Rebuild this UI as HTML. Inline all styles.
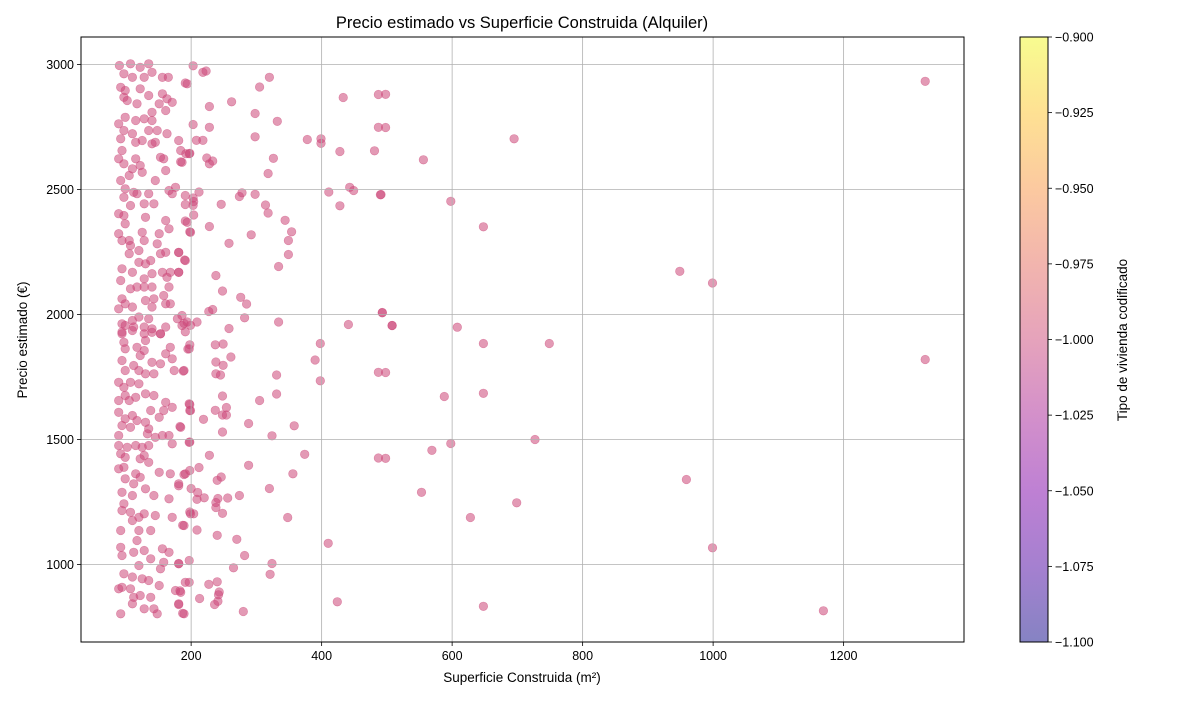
<!DOCTYPE html>
<html><head><meta charset="utf-8"><style>
body{margin:0;background:#fff;}
svg text{font-family:"Liberation Sans","DejaVu Sans",sans-serif;fill:#000;}
</style></head><body>
<svg id="chart" width="1200" height="700" viewBox="0 0 1200 700" xmlns="http://www.w3.org/2000/svg">
<defs>
<linearGradient id="plasma" x1="0" y1="1" x2="0" y2="0">
<stop offset="0" stop-color="#0d0887"/><stop offset="0.125" stop-color="#4c02a1"/>
<stop offset="0.25" stop-color="#7e03a8"/><stop offset="0.375" stop-color="#a82296"/>
<stop offset="0.5" stop-color="#cc4778"/><stop offset="0.625" stop-color="#e56b5d"/>
<stop offset="0.75" stop-color="#f89441"/><stop offset="0.875" stop-color="#fdc328"/>
<stop offset="1" stop-color="#f0f921"/></linearGradient>
</defs>
<text x="522" y="28" font-size="16.5" text-anchor="middle">Precio estimado vs Superficie Construida (Alquiler)</text>
<g id="points"></g>
<g id="grid"></g>
<rect x="81" y="37" width="883" height="605" fill="none" stroke="#000" stroke-width="1"/>
<g id="xticks"></g>
<g id="yticks"></g>
<text x="522" y="682" font-size="13.5" text-anchor="middle">Superficie Construida (m²)</text>
<text transform="translate(27,340) rotate(-90)" font-size="13.5" text-anchor="middle">Precio estimado (€)</text>
<rect x="1020" y="37" width="28" height="605" fill="url(#plasma)" fill-opacity="0.5"/>
<rect x="1020" y="37" width="28" height="605" fill="none" stroke="#000" stroke-width="1"/>
<g id="cticks"></g>
<text transform="translate(1127,340) rotate(-90)" font-size="13.5" text-anchor="middle">Tipo de vivienda codificado</text>
</svg>
<script>
const surface = [
1325,498,498,695,556,491,598,648,949,999,493,508,608,648,749,1325,498,588,648,727,598,569,498,959,553,699,628,999,648,1169,
203,218,223,191,320,305,262,228,298,332,203,228,208,218,298,378,399,399,428,481,433,487,487,192,198,184,224,228,233,326,318,212,203,204,203,191,204,191,278,274,298,246,314,318,411,443,449,490,428,228,198,292,344,354,349,258,349,181,190,181,334,238,248,276,285,227,233,282,186,189,191,199,209,334,258,441,493,508,198,195,237,249,261,398,390,238,249,238,245,331,398,487,188,248,331,305,198,198,237,254,248,254,219,183,288,248,324,358,198,228,374,487,288,189,198,212,240,246,181,200,210,356,320,274,209,220,241,256,238,238,198,204,248,348,187,209,240,270,410,282,181,265,324,321,191,183,181,227,240,243,242,241,236,213,187,280,424,
90,107,135,97,110,122,140,128,156,165,194,92,99,97,102,117,122,135,156,163,171,151,161,140,99,115,128,140,89,97,110,135,148,163,92,115,125,140,145,181,184,197,94,89,97,110,122,125,115,153,158,186,105,161,145,92,99,112,117,135,166,176,171,191,97,107,128,130,143,89,97,99,161,166,194,199,89,94,105,107,125,128,151,148,153,161,181,191,105,120,94,110,120,130,138,156,163,168,181,128,140,92,107,117,128,140,158,166,94,89,99,110,130,143,140,161,168,94,99,110,120,135,112,128,140,153,161,179,186,194,94,128,
94,110,140,153,97,99,117,130,128,122,161,168,171,174,189,197,94,99,112,120,130,140,153,143,89,97,107,120,99,89,105,115,130,143,161,158,151,138,171,197,199,89,99,110,117,94,107,130,135,133,145,156,166,171,197,184,89,89,102,115,125,135,92,99,122,128,135,97,89,115,122,151,168,181,191,99,112,94,110,130,143,166,97,94,107,120,128,145,171,189,199,92,110,120,138,117,92,94,112,128,138,156,166,158,153,181,197,97,110,120,89,94,107,125,135,151,112,122,138,110,128,143,148,176,184,181,197,92,189
];
const price = [
2933,2881,2748,2703,2619,2480,2453,2351,2173,2126,2007,1956,1949,1884,1884,1820,1768,1672,1685,1500,1484,1457,1425,1340,1289,1247,1188,1067,833,815,
2995,2969,2974,2926,2949,2910,2851,2832,2804,2773,2760,2749,2697,2697,2711,2700,2703,2685,2652,2655,2868,2880,2749,2643,2645,2611,2626,2603,2614,2625,2564,2490,2466,2452,2437,2440,2398,2374,2487,2472,2481,2441,2438,2406,2490,2509,2496,2479,2435,2352,2331,2319,2377,2331,2296,2285,2240,2248,2218,2169,2192,2156,2094,2069,2042,2012,2020,1987,1996,1965,1931,1957,1970,1970,1944,1960,2008,1956,1879,1862,1879,1882,1830,1884,1818,1810,1797,1763,1758,1758,1735,1769,1774,1674,1682,1656,1640,1616,1617,1628,1598,1598,1581,1552,1564,1530,1515,1555,1490,1437,1441,1426,1397,1360,1376,1388,1337,1350,1315,1304,1288,1363,1304,1276,1261,1267,1264,1266,1248,1228,1210,1203,1205,1188,1157,1138,1117,1101,1085,1036,1004,987,1004,961,929,895,840,921,931,890,879,853,840,864,805,812,851,
2996,3003,3003,2963,2949,2989,2969,2949,2949,2949,2923,2909,2896,2869,2856,2843,2903,2876,2883,2863,2849,2843,2816,2809,2789,2776,2783,2776,2763,2736,2723,2736,2736,2723,2703,2689,2696,2683,2689,2696,2656,2643,2656,2623,2603,2583,2596,2569,2623,2629,2623,2609,2556,2576,2536,2536,2503,2489,2483,2483,2496,2509,2483,2476,2469,2436,2443,2389,2443,2403,2396,2363,2376,2343,2369,2329,2323,2296,2296,2276,2329,2296,2323,2283,2243,2249,2249,2216,2243,2256,2183,2169,2209,2203,2216,2169,2149,2169,2169,2143,2163,2136,2103,2110,2110,2110,2076,2110,2063,2023,2043,2030,2056,2063,2030,2043,2043,1963,1956,1976,1990,1983,1950,1950,1943,1923,1950,1983,1956,1970,1930,1923,
1923,1936,1929,1923,1889,1863,1869,1896,1856,1836,1843,1869,1823,1776,1776,1863,1816,1776,1796,1776,1763,1809,1803,1763,1729,1709,1729,1723,1676,1656,1656,1669,1683,1676,1649,1616,1589,1616,1629,1643,1616,1609,1583,1596,1576,1556,1549,1569,1543,1523,1509,1516,1516,1483,1489,1549,1516,1476,1469,1476,1469,1476,1443,1429,1423,1436,1409,1389,1383,1363,1349,1369,1363,1323,1363,1343,1323,1289,1276,1303,1276,1263,1243,1216,1209,1189,1203,1196,1189,1156,1203,1136,1176,1136,1136,1096,1069,1036,1049,1056,1023,1063,1049,1009,983,1003,1016,963,950,996,903,909,903,943,936,916,869,876,869,843,823,823,803,896,889,843,929,803,803
];
const xTicks = [200,400,600,800,1000,1200];
const yTicks = [1000,1500,2000,2500,3000];
const cTicks = [-0.900,-0.925,-0.950,-0.975,-1.000,-1.025,-1.050,-1.075,-1.100];
const X0=81,X1=964,Y0=642,Y1=37, XMIN=31.2, XMAX=1384.5, YMIN=690, YMAX=3110;
const sx=v=>X0+(v-XMIN)/(XMAX-XMIN)*(X1-X0);
const sy=v=>Y0-(v-YMIN)/(YMAX-YMIN)*(Y0-Y1);
const sc=v=>Y1+(-0.9-v)/0.2*(Y0-Y1);
const NS='http://www.w3.org/2000/svg';
function mk(tag,attrs,parent){const e=document.createElementNS(NS,tag);for(const k in attrs)e.setAttribute(k,attrs[k]);parent.appendChild(e);return e;}
const gp=document.getElementById('points');
const n=Math.min(surface.length,price.length);
for(let i=0;i<n;i++){
 const c=mk('circle',{cx:sx(surface[i]).toFixed(1),cy:sy(price[i]).toFixed(1),r:4.3,fill:'#cc4778','fill-opacity':0.55,stroke:'#cc4778','stroke-opacity':0.55,'stroke-width':0.6},gp);
 
 
}
const gg=document.getElementById('grid');
const gx=document.getElementById('xticks');
xTicks.forEach(t=>{const x=sx(t);
 const l=mk('line',{x1:x,x2:x,y1:Y1,y2:Y0,stroke:'#b0b0b0','stroke-width':0.8},gg);
 
 
 mk('line',{x1:x,x2:x,y1:Y0,y2:Y0+4,stroke:'#000','stroke-width':0.8},gx);
 const tx=mk('text',{x:x,y:Y0+18,'font-size':12.5,'text-anchor':'middle'},gx);tx.textContent=t;
 
 
});
const gy=document.getElementById('yticks');
yTicks.forEach(t=>{const y=sy(t);
 const l=mk('line',{x1:X0,x2:X1,y1:y,y2:y,stroke:'#b0b0b0','stroke-width':0.8},gg);
 
 
 mk('line',{x1:X0-4,x2:X0,y1:y,y2:y,stroke:'#000','stroke-width':0.8},gy);
 const tx=mk('text',{x:X0-7,y:y+4.5,'font-size':12.5,'text-anchor':'end'},gy);tx.textContent=t;
 
 
});
const gc=document.getElementById('cticks');
cTicks.forEach(t=>{const y=sc(t);
 mk('line',{x1:1048,x2:1052,y1:y,y2:y,stroke:'#000','stroke-width':0.8},gc);
 const tx=mk('text',{x:1055,y:y+4.5,'font-size':12.5},gc);tx.textContent='\u2212'+Math.abs(t).toFixed(3);
 
 
});
</script>
</body></html>
